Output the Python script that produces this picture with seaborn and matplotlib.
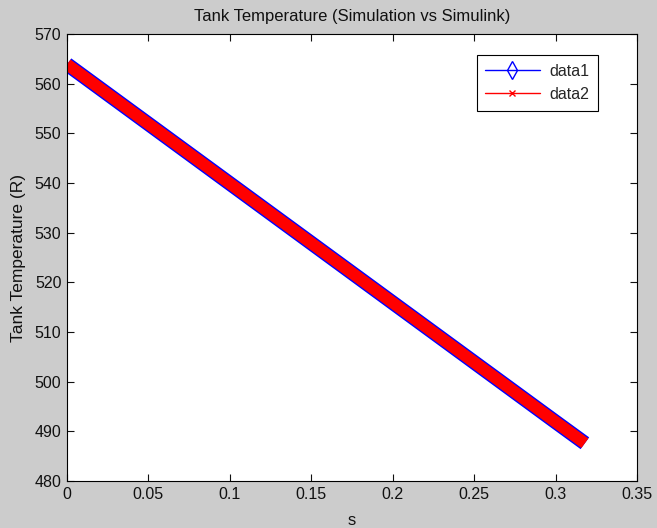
import matplotlib
matplotlib.use('Agg')
import matplotlib.pyplot as plt
from matplotlib.lines import Line2D
import seaborn as sns
import pandas as pd

# values
time_s = [0.0, 0.05, 0.10, 0.15, 0.20, 0.25, 0.30, 0.318]
temp_sim = [563.9, 551.9, 539.9, 527.9, 515.9, 503.9, 491.9, 487.6]
temp_slk = [563.9, 551.9, 539.9, 527.9, 515.9, 503.9, 491.9, 487.6]

x_ticks = [0, 0.05, 0.1, 0.15, 0.2, 0.25, 0.3, 0.35]
y_ticks = [480, 490, 500, 510, 520, 530, 540, 550, 560, 570]

sns.set_style('ticks')
plt.rcParams['font.family'] = ['Liberation Sans', 'DejaVu Sans']

df = pd.DataFrame({'s': time_s, 'sim': temp_sim, 'slk': temp_slk})

fig = plt.figure(figsize=(6.57, 5.28), dpi=100)
fig.patch.set_facecolor('#cccccc')
ax = fig.add_axes([67 / 657, 1 - 481 / 528, 570 / 657, 447 / 528])
ax.set_facecolor('white')

sns.lineplot(data=df, x='s', y='sim', ax=ax, color='#0000ff', linewidth=10.5,
             solid_capstyle='butt', estimator=None, sort=False)
sns.lineplot(data=df, x='s', y='slk', ax=ax, color='#ff0000', linewidth=8.5,
             solid_capstyle='butt', estimator=None, sort=False)

ax.set_xlim(0, 0.35)
ax.set_ylim(480, 570)
ax.set_xticks(x_ticks)
ax.set_xticklabels([f'{v:g}' for v in x_ticks])
ax.set_yticks(y_ticks)
ax.tick_params(direction='in', top=True, right=True, length=5, width=0.8,
               labelsize=11.5, colors='#111111', pad=4)
for sp in ax.spines.values():
    sp.set_visible(True)
    sp.set_color('black')
    sp.set_linewidth(0.8)

ax.set_title('Tank Temperature (Simulation vs Simulink)', fontsize=12,
             pad=9, color='#111111')
ax.set_xlabel('s', fontsize=12, labelpad=8, color='#111111')
ax.set_ylabel('Tank Temperature (R)', fontsize=12.5, labelpad=6, color='#111111')

handles = [
    Line2D([], [], color='#0000ff', marker='d', markerfacecolor='none',
           markeredgecolor='#0000ff', markersize=9, linewidth=1),
    Line2D([], [], color='#ff0000', marker='x', markersize=5, linewidth=1),
]
leg = ax.legend(handles, ['data1', 'data2'], loc='upper right',
                bbox_to_anchor=(0.9316, 0.953), borderaxespad=0,
                fontsize=11.5, fancybox=False, framealpha=1,
                edgecolor='black', handlelength=3.4, borderpad=0.55,
                labelspacing=0.5, handletextpad=0.6)
leg.get_frame().set_linewidth(0.8)

fig.savefig('out.png', dpi=100, facecolor=fig.get_facecolor())
